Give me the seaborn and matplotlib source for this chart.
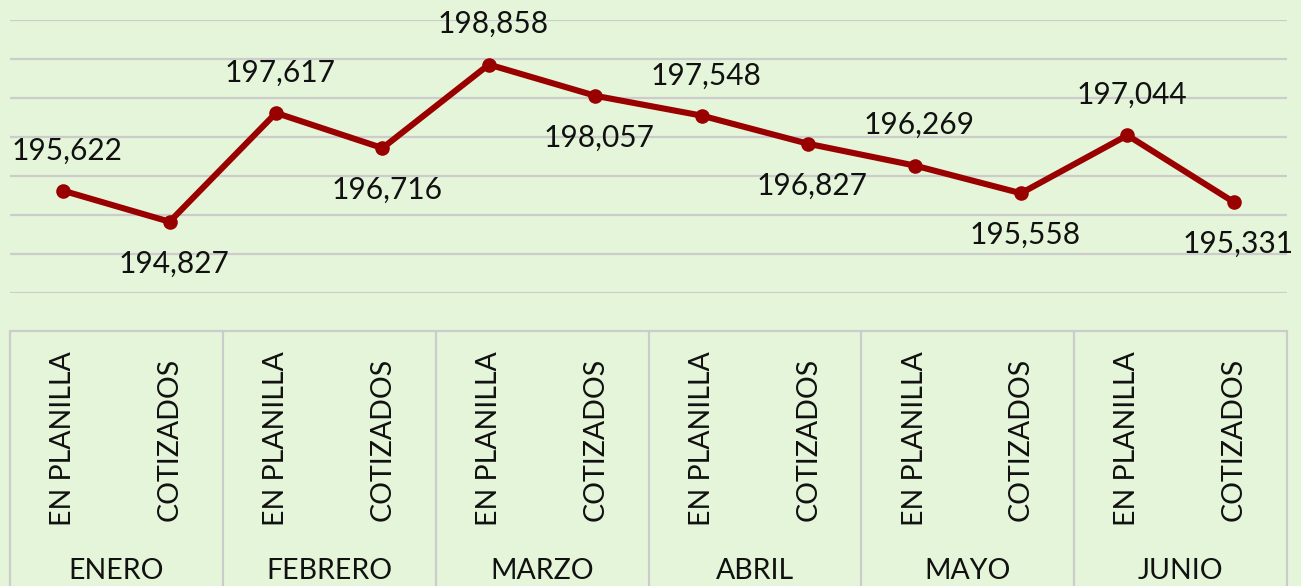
import numpy as np
import pandas as pd
import seaborn as sns
import matplotlib.pyplot as plt
import matplotlib.transforms as mtransforms

# Data
months = ["ENERO", "FEBRERO", "MARZO", "ABRIL", "MAYO", "JUNIO"]
kinds = ["EN PLANILLA", "COTIZADOS"]
values = [195622, 194827, 197617, 196716, 198858, 198057,
          197548, 196827, 196269, 195558, 197044, 195331]

bg = "#E5F5D9"
red = "#990000"
grid_c = "#CCCCCC"

sns.set_style("white")
plt.rcParams["font.family"] = ["Lato", "DejaVu Sans"]

df = pd.DataFrame({"pos": np.arange(len(values)), "valor": values})

fig = plt.figure(figsize=(13.01, 5.86), dpi=100, facecolor=bg)
W, H = 1301, 586
ax = fig.add_axes([10 / W, (H - 293) / H, 1277 / W, 273 / H])
ax.set_facecolor(bg)

sns.lineplot(data=df, x="pos", y="valor", ax=ax, color=red, lw=4.4,
             marker="o", markersize=10.5, markeredgewidth=0, zorder=3)

ax.set_xlim(-0.5, len(values) - 0.5)
ax.set_ylim(193000, 200000)
ax.set_yticks(range(193000, 200001, 1000))
ax.yaxis.grid(True, color=grid_c, lw=1.6)
ax.set_axisbelow(True)
ax.set_xticks([])
ax.set_yticklabels([])
ax.tick_params(length=0)
ax.set_xlabel("")
ax.set_ylabel("")
for s in ax.spines.values():
    s.set_visible(False)

# data labels, alternating above / below
for i, v in enumerate(values):
    dy = 29 if i % 2 == 0 else -30
    ax.annotate(f"{v:,}", (i, v), xytext=(3, dy), textcoords="offset points",
                ha="center", va="center", fontsize=21.5, color="#111111")

# multi-level category axis drawn as a table below the plot
tr = mtransforms.blended_transform_factory(ax.transData, fig.transFigure)
top = (H - 331) / H
ax.plot([-0.5, len(values) - 0.5], [top, top], transform=tr,
        color=grid_c, lw=1.6, clip_on=False)
for m in range(len(months) + 1):
    xb = m * 2 - 0.5
    ax.plot([xb, xb], [top, 0], transform=tr, color=grid_c, lw=1.6,
            clip_on=False)

for i in range(len(values)):
    ax.text(i, (H - 439) / H, kinds[i % 2], transform=tr, rotation=90,
            ha="center", va="center", fontsize=20.5, color="#111111")
for m, name in enumerate(months):
    ax.text(m * 2 + 0.5, (H - 571) / H, name, transform=tr,
            ha="center", va="center", fontsize=20.5, color="#111111")

fig.savefig("out.png", dpi=100, facecolor=bg)
